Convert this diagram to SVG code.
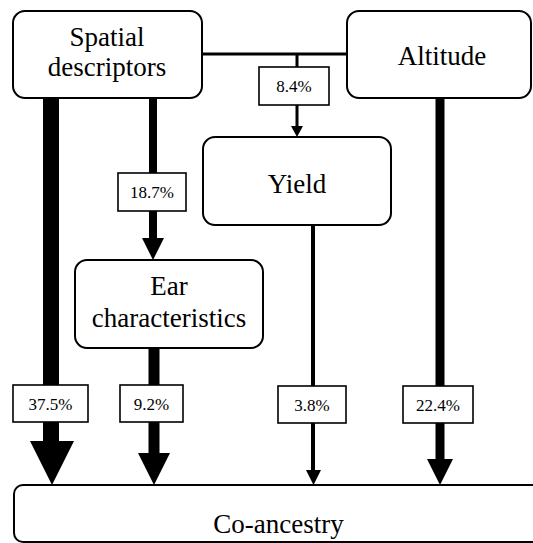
<svg xmlns="http://www.w3.org/2000/svg" width="533" height="543" viewBox="0 0 533 543">
<style>
.node{fill:#fff;stroke:#000;stroke-width:2}
.lbl{fill:#fff;stroke:#000;stroke-width:1.6}
.t{font-size:27px;fill:#000;text-anchor:middle}
.p{font-size:17px;fill:#000;text-anchor:middle}
.bar{fill:#000}
</style>
<rect width="533" height="543" fill="#fff"/>
<g id="connectors" font-family="Liberation Serif, DejaVu Serif, serif">
  <line x1="202" y1="54" x2="347" y2="54" stroke="#000" stroke-width="3"/>
  <rect class="bar" x="295.5" y="54" width="3" height="73"/>
  <polygon class="bar" points="291,126 303,126 297,137"/>
  <rect class="lbl" x="259" y="67" width="70" height="38"/>
  <text class="p" x="294" y="92">8.4%</text>
  <rect class="bar" x="43" y="98" width="16" height="344"/>
  <polygon class="bar" points="30,441 74,441 52,485"/>
  <rect class="lbl" x="13" y="385" width="75" height="37"/>
  <text class="p" x="50.5" y="409.5">37.5%</text>
  <rect class="bar" x="149" y="98" width="8" height="141"/>
  <polygon class="bar" points="142,238 164,238 153,260"/>
  <rect class="lbl" x="118" y="173" width="68" height="38"/>
  <text class="p" x="152" y="198">18.7%</text>
  <rect class="bar" x="148.5" y="348" width="11" height="106"/>
  <polygon class="bar" points="138,453 170,453 154,485"/>
  <rect class="lbl" x="120" y="385" width="63" height="37"/>
  <text class="p" x="151.5" y="409.5">9.2%</text>
  <rect class="bar" x="311" y="225" width="4" height="246"/>
  <polygon class="bar" points="306,470 321,470 313.5,485"/>
  <rect class="lbl" x="278" y="386" width="68" height="37"/>
  <text class="p" x="312" y="410.5">3.8%</text>
  <rect class="bar" x="435.5" y="98" width="9" height="362"/>
  <polygon class="bar" points="427,459 453,459 440,485"/>
  <rect class="lbl" x="403" y="386" width="70" height="37"/>
  <text class="p" x="438" y="410.5">22.4%</text>
</g>
<g id="nodes" font-family="Liberation Serif, DejaVu Serif, serif">
<g id="spatial">
  <rect class="node" x="13" y="11" width="189" height="87" rx="12"/>
  <text class="t" x="107" y="46">Spatial</text>
  <text class="t" x="107" y="76">descriptors</text>
</g>
<g id="altitude">
  <rect class="node" x="347" y="11" width="184" height="87" rx="12"/>
  <text class="t" x="442" y="65">Altitude</text>
</g>
<g id="yield">
  <rect class="node" x="203" y="137" width="188" height="88" rx="12"/>
  <text class="t" x="297" y="193">Yield</text>
</g>
<g id="ear">
  <rect class="node" x="75" y="260" width="188" height="88" rx="12"/>
  <text class="t" x="169" y="295">Ear</text>
  <text class="t" x="169" y="327">characteristics</text>
</g>
<g id="coancestry">
  <rect class="node" x="14" y="485" width="540" height="57" rx="9"/>
  <text class="t" x="278.5" y="533">Co-ancestry</text>
</g>
</g>
</svg>
